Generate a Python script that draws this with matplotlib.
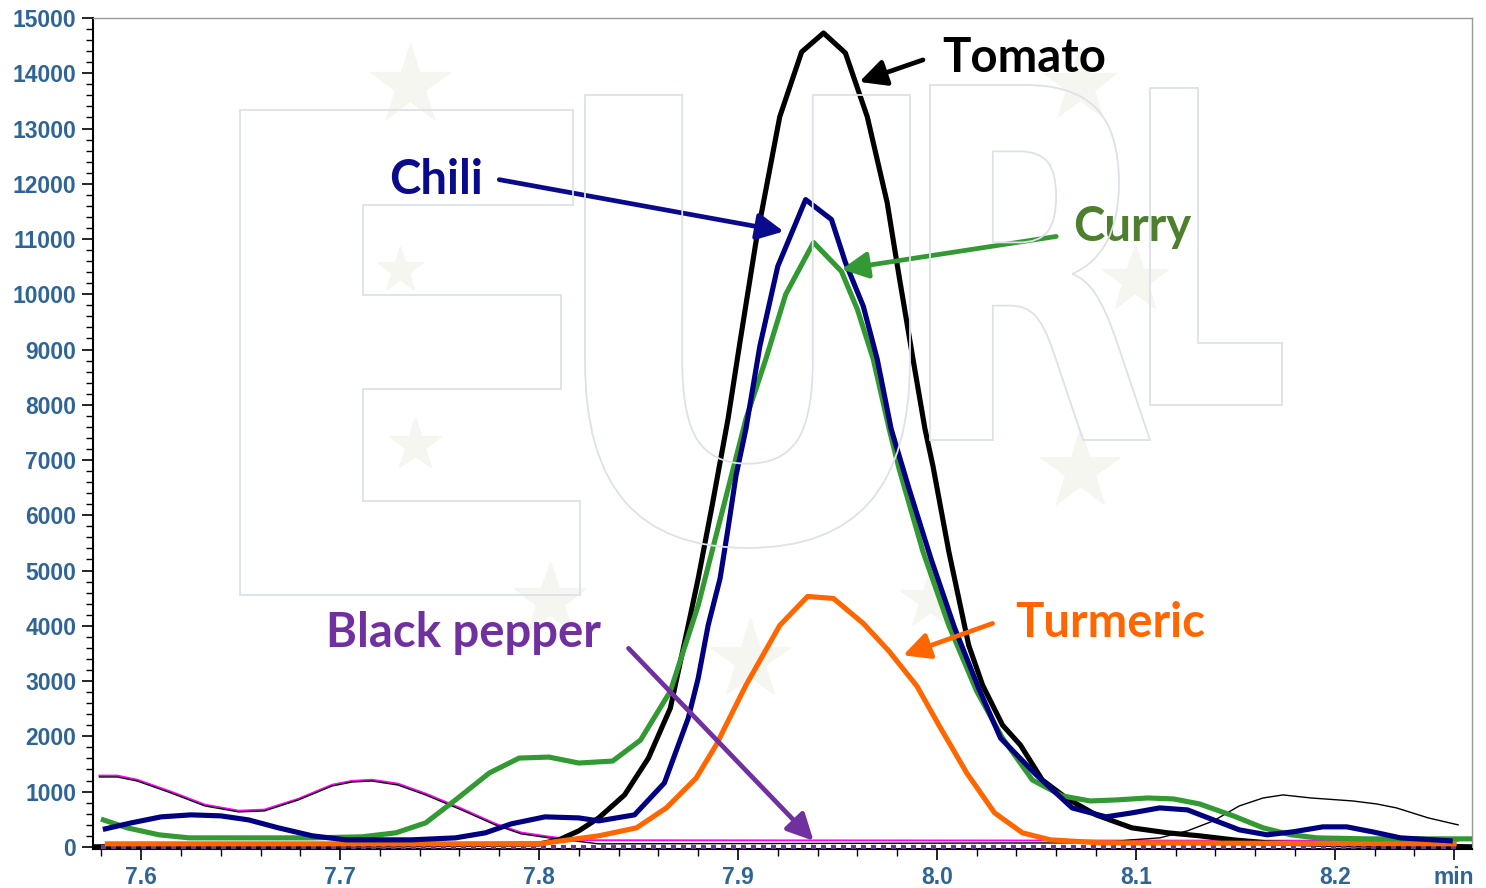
import numpy as np
import matplotlib
matplotlib.use("Agg")
import matplotlib.pyplot as plt
from matplotlib.textpath import TextPath
from matplotlib.patches import PathPatch
from matplotlib.font_manager import FontProperties
from matplotlib.transforms import Affine2D
from matplotlib.ticker import MultipleLocator

### chromatogram traces (time in min, intensity) ###
tomato_t = [7.576, 7.800, 7.810, 7.820, 7.830, 7.843, 7.855, 7.866, 7.875, 7.880, 7.887, 7.895,
            7.901, 7.909, 7.921, 7.932, 7.943, 7.954, 7.965, 7.975, 7.981, 7.988, 7.994, 7.998,
            8.006, 8.016, 8.023, 8.033, 8.042, 8.053, 8.065, 8.080, 8.098, 8.116, 8.132, 8.149,
            8.166, 8.199, 8.269]
tomato_v = [0, 50, 126, 289, 523, 939, 1606, 2509, 4007, 4855, 6173, 7743,
            9133, 10938, 13213, 14386, 14729, 14368, 13213, 11660, 10325, 8826, 7563, 6895,
            5343, 3646, 2924, 2202, 1841, 1209, 884, 578, 343, 253, 199, 126,
            72, 40, 0]

chili_t = [7.582, 7.595, 7.610, 7.625, 7.640, 7.654, 7.669, 7.686, 7.703, 7.736, 7.758, 7.773,
           7.786, 7.803, 7.820, 7.830, 7.848, 7.863, 7.875, 7.880, 7.885, 7.891, 7.895, 7.899,
           7.904, 7.911, 7.920, 7.934, 7.947, 7.954, 7.963, 7.970, 7.977, 7.986, 7.997, 8.009,
           8.021, 8.032, 8.050, 8.068, 8.085, 8.098, 8.112, 8.126, 8.139, 8.152, 8.166, 8.179,
           8.194, 8.206, 8.219, 8.233, 8.258]
chili_v = [325, 433, 542, 578, 560, 487, 343, 199, 126, 126, 162, 253,
           415, 542, 523, 469, 578, 1155, 2328, 3050, 4007, 4855, 5758, 6715,
           7563, 9061, 10505, 11714, 11353, 10577, 9783, 8826, 7563, 6480, 5216, 3953,
           2870, 1967, 1300, 704, 542, 614, 704, 668, 487, 307, 217, 271,
           361, 361, 271, 162, 108]

curry_t = [7.581, 7.593, 7.609, 7.624, 7.652, 7.686, 7.711, 7.728, 7.743, 7.758, 7.775, 7.790,
           7.805, 7.820, 7.837, 7.851, 7.866, 7.880, 7.904, 7.914, 7.924, 7.938, 7.952, 7.960,
           7.968, 7.976, 7.981, 7.993, 8.006, 8.020, 8.033, 8.048, 8.063, 8.077, 8.090, 8.106,
           8.119, 8.132, 8.149, 8.164, 8.178, 8.191, 8.216, 8.269]
curry_v = [487, 343, 217, 162, 162, 162, 181, 253, 433, 848, 1336, 1606,
           1624, 1516, 1552, 1931, 2816, 4368, 7743, 8826, 9999, 10938, 10415, 9729,
           8826, 7563, 6841, 5343, 4007, 2816, 1967, 1209, 921, 830, 848, 884,
           866, 776, 560, 343, 217, 162, 144, 144]

turmeric_t = [7.583, 7.800, 7.815, 7.830, 7.849, 7.864, 7.879, 7.889, 7.904, 7.921, 7.935, 7.948,
              7.963, 7.976, 7.990, 8.001, 8.015, 8.029, 8.043, 8.057, 8.082, 8.260]
turmeric_v = [54, 54, 126, 199, 343, 704, 1245, 1841, 2924, 4007, 4531, 4495,
              4043, 3538, 2906, 2202, 1336, 614, 253, 126, 72, 54]

# thin unlabelled trace (black) and its magenta twin
trace_t = [7.579, 7.588, 7.598, 7.615, 7.632, 7.649, 7.662, 7.679, 7.696, 7.706, 7.716, 7.729,
           7.743, 7.761, 7.778, 7.791, 7.805, 7.830, 8.082, 8.098, 8.112, 8.126, 8.139, 8.152,
           8.164, 8.174, 8.188, 8.209, 8.221, 8.231, 8.247, 8.262]
trace_v = [1264, 1264, 1191, 975, 740, 632, 650, 848, 1101, 1173, 1191, 1119,
           939, 668, 397, 235, 162, 54, 72, 126, 162, 289, 469, 740,
           884, 939, 884, 830, 776, 704, 523, 397]

magenta_t = [7.579, 7.588, 7.598, 7.615, 7.632, 7.649, 7.662, 7.679, 7.696, 7.706, 7.716, 7.729,
             7.743, 7.761, 7.778, 7.791, 7.805, 7.820, 8.262]
magenta_v = [1290, 1290, 1215, 1000, 765, 655, 675, 870, 1125, 1195, 1215, 1145,
             965, 695, 420, 260, 185, 120, 110]

pepper_t = [7.580, 8.262]
pepper_v = [0, 0]

x_major = [7.6, 7.7, 7.8, 7.9, 8.0, 8.1, 8.2, 8.26]
x_labels = ["7.6", "7.7", "7.8", "7.9", "8.0", "8.1", "8.2", "min"]
y_major = list(range(0, 15001, 1000))

tick_col = "#2F6496"
LW = 3.7
fig = plt.figure(figsize=(14.86, 8.88), dpi=100)
ax = fig.add_axes([0.0626, 0.0439, 0.928, 0.9358])

### faint EURL watermark behind the plot ###
wm_font = FontProperties(family="DejaVu Sans", weight="bold")
W, H = 1486.0, 888.0
letters = [("E", 240, 580, 110, 595), ("U", 585, 910, 95, 548),
           ("R", 930, 1150, 85, 440), ("L", 1150, 1282, 88, 405)]
for ch, x0, x1, y0, y1 in letters:
    tp = TextPath((0, 0), ch, size=1, prop=wm_font)
    ext = tp.get_extents()
    tr = (Affine2D().translate(-ext.x0, -ext.y0)
          .scale((x1 - x0) / W / ext.width, (y1 - y0) / H / ext.height)
          .translate(x0 / W, 1 - y1 / H))
    p = tr.transform_path(tp)
    fig.patches.append(PathPatch(p, transform=fig.transFigure, facecolor="none",
                                 edgecolor="#DCE2E8", lw=1.3, zorder=0))
stars = [(410, 85, 60), (1080, 85, 55), (1135, 280, 50), (1080, 470, 60), (550, 600, 55),
         (750, 660, 60), (415, 445, 40), (400, 270, 35), (930, 600, 45)]
for sx, sy, ss in stars:
    fig.add_artist(plt.Line2D([sx / W], [1 - sy / H], marker="*", markersize=ss, color="#F6F6F1",
                              transform=fig.transFigure, zorder=0))
ax.patch.set_alpha(0)

### the traces ###
ax.plot(magenta_t, magenta_v, color="#FF00FF", lw=1.3, zorder=3)
ax.plot(trace_t, trace_v, color="black", lw=1.0, zorder=3)
ax.plot(tomato_t, tomato_v, color="black", lw=LW, zorder=4)
ax.plot(pepper_t, pepper_v, color="#7030A0", lw=3.0, ls=(0, (1.2, 1.2)), zorder=4.5)
ax.plot(turmeric_t, turmeric_v, color="#FF6600", lw=LW, zorder=5)
ax.plot(curry_t, curry_v, color="#339933", lw=LW, zorder=6)
ax.plot(chili_t, chili_v, color="#000080", lw=LW, zorder=7)

ax.set_xlim(7.5758, 8.269)
ax.set_ylim(-40, 15000)
ax.set_xticks(x_major)
ax.set_xticklabels(x_labels)
ax.set_yticks(y_major)
ax.xaxis.set_minor_locator(MultipleLocator(0.02))
ax.yaxis.set_minor_locator(MultipleLocator(200))
ax.tick_params(which="major", direction="out", length=8, width=1.2, pad=4,
               labelsize=16.5, labelcolor=tick_col)
ax.tick_params(which="minor", direction="out", length=5, width=1.0)
for lab in ax.get_xticklabels() + ax.get_yticklabels():
    lab.set_fontweight("bold")
    lab.set_family(["Liberation Sans", "DejaVu Sans"])
for s in ["top", "right"]:
    ax.spines[s].set_color("#9A9A9A")
    ax.spines[s].set_linewidth(1.0)
for s in ["left", "bottom"]:
    ax.spines[s].set_linewidth(1.5)

### labels with arrows ###
lab_font = ["Lato", "DejaVu Sans"]
def label(txt, col, arrow_col, tx, ty, ax0, ay0, ax1, ay1):
    ax.text(tx, ty, txt, color=col, fontsize=34, fontweight="bold", family=lab_font,
            ha="center", va="center", zorder=10)
    ax.annotate("", xy=(ax1, ay1), xytext=(ax0, ay0),
                arrowprops=dict(arrowstyle="-|>,head_length=0.8,head_width=0.4", color=arrow_col,
                                lw=3.4, mutation_scale=20, shrinkA=0, shrinkB=0), zorder=10)

label("Tomato", "black", "black", 8.044, 14278, 7.993, 14242, 7.961, 13844)
label("Chili", "#0A0A8C", "#0A0A8C", 7.748, 12075, 7.780, 12075, 7.923, 11137)
label("Curry", "#4E7F2E", "#339933", 8.098, 11209, 8.060, 11047, 7.952, 10451)
label("Turmeric", "#FF6600", "#FF6600", 8.087, 4043, 8.028, 4043, 7.983, 3466)
label("Black pepper", "#7030A0", "#7030A0", 7.762, 3863, 7.845, 3592, 7.938, 108)

fig.savefig("out.png", dpi=100)
